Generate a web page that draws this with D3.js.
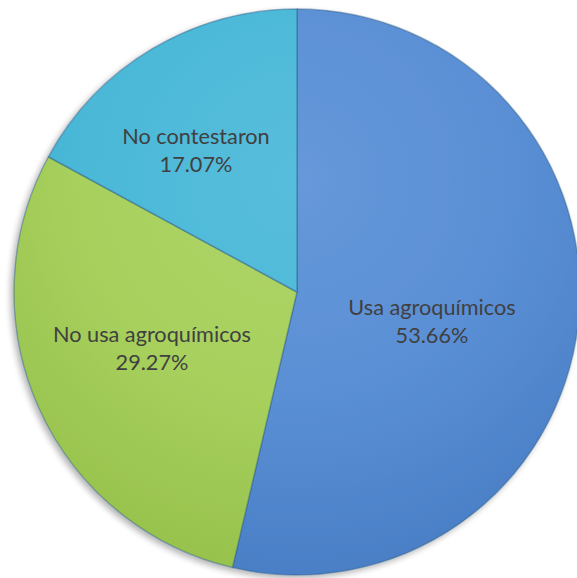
<!DOCTYPE html>
<html>
<head>
<meta charset="utf-8">
<script src="https://cdn.jsdelivr.net/npm/d3@7"></script>
<style>
  body { margin: 0; background: #fff; }
  svg { display: block; }
</style>
</head>
<body>
<script>
var categories = ["Usa agroquímicos", "No usa agroquímicos", "No contestaron"];
var values = [53.66, 29.27, 17.07];
var colors = ["#5a8fd5", "#a7d05d", "#4bb8d7"];
var lightColors = ["#6698da", "#afd568", "#57bedc"];
var darkColors = ["#4a7fc6", "#97c24c", "#3aa8c8"];

var w = 577, h = 578;
var cx = 297, cy = 292, r = 283;

var data = categories.map(function(c, i) { return {name: c, value: values[i], i: i}; });

var svg = d3.select("body").append("svg")
    .attr("width", w)
    .attr("height", h);

var defs = svg.append("defs");

var shadow = defs.append("filter").attr("id", "shadow")
    .attr("x", "-10%").attr("y", "-10%").attr("width", "120%").attr("height", "120%");
shadow.append("feGaussianBlur").attr("in", "SourceAlpha").attr("stdDeviation", 3);
shadow.append("feOffset").attr("dx", -3).attr("dy", 3).attr("result", "off");
shadow.append("feComponentTransfer").append("feFuncA").attr("type", "linear").attr("slope", 0.3);
var merge = shadow.append("feMerge");
merge.append("feMergeNode");
merge.append("feMergeNode").attr("in", "SourceGraphic");

// gradients live in the translated slice space, so centre is 0,0
data.forEach(function(d) {
    var g = defs.append("radialGradient").attr("id", "grad" + d.i)
        .attr("gradientUnits", "userSpaceOnUse")
        .attr("cx", 0).attr("cy", -r * 0.4).attr("r", r * 1.4);
    g.append("stop").attr("offset", "0%").attr("stop-color", lightColors[d.i]);
    g.append("stop").attr("offset", "55%").attr("stop-color", colors[d.i]);
    g.append("stop").attr("offset", "100%").attr("stop-color", darkColors[d.i]);
});

var pie = d3.pie().sort(null).value(function(d) { return d.value; });
var arc = d3.arc().innerRadius(0).outerRadius(r);

var chart = svg.append("g").attr("transform", "translate(" + cx + "," + cy + ")");

var slices = chart.append("g").attr("filter", "url(#shadow)");

slices.selectAll("path")
    .data(pie(data))
    .enter()
    .append("path")
    .attr("d", arc)
    .attr("fill", function(d) { return "url(#grad" + d.data.i + ")"; })
    .attr("stroke", "#2e5f8a")
    .attr("stroke-opacity", 0.45)
    .attr("stroke-width", 1.5)
    .attr("stroke-linejoin", "round");

// label positions relative to centre
var labelPos = [[135, 23], [-145, 50], [-101, -148]];

var labels = chart.selectAll("text.lbl")
    .data(pie(data))
    .enter()
    .append("text")
    .attr("class", "lbl")
    .attr("text-anchor", "middle")
    .attr("font-family", "Lato, 'Open Sans', sans-serif")
    .attr("font-size", "21.7px")
    .attr("fill", "#404040")
    .attr("transform", function(d) {
        var p = labelPos[d.data.i];
        return "translate(" + p[0] + "," + p[1] + ")";
    });

labels.append("tspan")
    .attr("x", 0)
    .attr("y", 0)
    .text(function(d) { return d.data.name; });
labels.append("tspan")
    .attr("x", 0)
    .attr("y", 28)
    .text(function(d) { return d3.format(".2f")(d.data.value) + "%"; });
</script>
</body>
</html>
